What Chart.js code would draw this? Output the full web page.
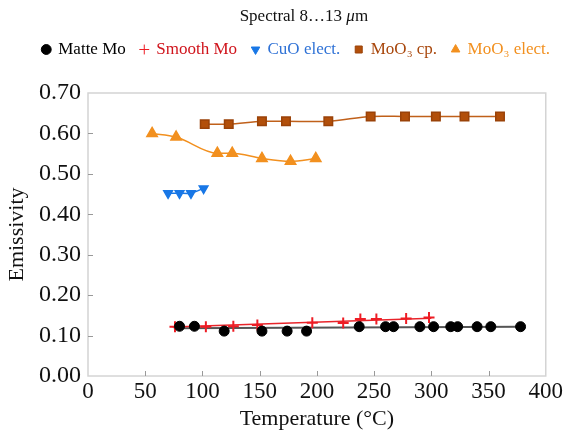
<!DOCTYPE html>
<html>
<head>
<meta charset="utf-8">
<script src="https://cdn.jsdelivr.net/npm/chart.js@4.4.1/dist/chart.umd.min.js"></script>
<style>
  html, body { margin: 0; padding: 0; background: #fff; }
  #wrap { width: 565px; height: 436px; }
</style>
</head>
<body>
<div id="wrap"><canvas id="myChart" width="565" height="436"></canvas></div>
<script>
// values
const matteX = [80, 93, 119, 152, 174, 191, 237, 260, 267, 290, 302, 317, 323, 340, 352, 378];
const matteY = [0.123, 0.123, 0.111, 0.111, 0.111, 0.111, 0.122, 0.122, 0.122, 0.122, 0.122, 0.122, 0.122, 0.122, 0.122, 0.122];
const matteTrendX = [75, 378];
const matteTrendY = [0.118, 0.122];

const smoothX = [76, 103, 127, 148, 196, 223, 238, 252, 278, 298];
const smoothY = [0.122, 0.122, 0.123, 0.126, 0.132, 0.131, 0.141, 0.141, 0.142, 0.145];
const smoothTrendX = [74, 300];
const smoothTrendY = [0.121, 0.143];

const cuoX = [70, 80, 90, 101];
const cuoY = [0.452, 0.452, 0.452, 0.464];

const moCpX = [102, 123, 152, 173, 210, 247, 277, 304, 329, 360];
const moCpY = [0.623, 0.623, 0.630, 0.630, 0.630, 0.642, 0.642, 0.642, 0.642, 0.642];

const moElX = [56, 77, 113, 126, 152, 177, 199];
const moElY = [0.600, 0.591, 0.551, 0.551, 0.538, 0.531, 0.538];

const xTicks = [0, 50, 100, 150, 200, 250, 300, 350, 400];
const yTicks = [0, 0.1, 0.2, 0.3, 0.4, 0.5, 0.6, 0.7];

const serif = "'Liberation Serif', 'DejaVu Serif', serif";

function toPoints(xs, ys) {
  return xs.map((x, i) => ({ x: x, y: ys[i] }));
}

// title over the plot, with italic mu
const titlePlugin = {
  id: 'spectralTitle',
  afterDraw(chart) {
    const ctx = chart.ctx;
    const area = chart.chartArea;
    const parts = [
      { t: 'Spectral 8\u202613 ', f: '17px ' + serif },
      { t: '\u03bc', f: 'italic 17px ' + serif },
      { t: 'm', f: '17px ' + serif }
    ];
    ctx.save();
    let total = 0;
    parts.forEach(p => { ctx.font = p.f; p.w = ctx.measureText(p.t).width; total += p.w; });
    let x = (area.left + area.right) / 2 - 13 - total / 2;
    ctx.fillStyle = '#111';
    ctx.textBaseline = 'middle';
    parts.forEach(p => { ctx.font = p.f; ctx.fillText(p.t, x, 17); x += p.w; });
    ctx.restore();
  }
};

// light frame around the plot and short inward ticks
const framePlugin = {
  id: 'frame',
  afterDatasetsDraw(chart) {
    const ctx = chart.ctx;
    const a = chart.chartArea;
    ctx.save();
    ctx.strokeStyle = '#d4d4d4';
    ctx.lineWidth = 1.5;
    ctx.strokeRect(a.left, a.top, a.right - a.left, a.bottom - a.top);
    ctx.strokeStyle = '#999';
    ctx.lineWidth = 1;
    const xs = chart.scales.x, ys = chart.scales.y;
    xTicks.slice(1, -1).forEach(v => {
      const px = Math.round(xs.getPixelForValue(v)) + 0.5;
      ctx.beginPath(); ctx.moveTo(px, a.bottom); ctx.lineTo(px, a.bottom - 5); ctx.stroke();
    });
    yTicks.slice(1, -1).forEach(v => {
      const py = Math.round(ys.getPixelForValue(v)) + 0.5;
      ctx.beginPath(); ctx.moveTo(a.left, py); ctx.lineTo(a.left + 5, py); ctx.stroke();
    });
    ctx.restore();
  }
};

const legendColors = ['#000000', '#d0141c', '#2f72d6', '#a8470c', '#f2901f'];

const ctx = document.getElementById('myChart').getContext('2d');
new Chart(ctx, {
  type: 'scatter',
  data: {
    datasets: [
      {
        label: 'Matte Mo',
        data: toPoints(matteX, matteY),
        pointStyle: 'circle',
        pointRadius: 5,
        backgroundColor: '#000',
        borderColor: '#000',
        showLine: false
      },
      {
        label: 'Smooth Mo',
        data: toPoints(smoothX, smoothY),
        pointStyle: 'cross',
        pointRadius: 5.5,
        pointBorderWidth: 2,
        backgroundColor: '#ee1c24',
        borderColor: '#ee1c24',
        showLine: false
      },
      {
        label: 'CuO elect.',
        data: toPoints(cuoX, cuoY),
        pointStyle: 'triangle',
        rotation: 180,
        pointRadius: 5,
        backgroundColor: '#1877e6',
        borderColor: '#1877e6',
        borderWidth: 1.5,
        showLine: true,
        tension: 0.2
      },
      {
        label: 'MoO\u2083 cp.',
        data: toPoints(moCpX, moCpY),
        pointStyle: 'rect',
        pointRadius: 6,
        backgroundColor: '#b24f0a',
        borderColor: '#c0601a',
        pointBorderColor: '#9a4208',
        borderWidth: 1.5,
        showLine: true,
        tension: 0.3
      },
      {
        label: 'MoO\u2083 elect.',
        data: toPoints(moElX, moElY),
        pointStyle: 'triangle',
        pointRadius: 6,
        backgroundColor: '#f2901f',
        borderColor: '#f2901f',
        borderWidth: 1.5,
        showLine: true,
        cubicInterpolationMode: 'monotone'
      },
      {
        label: 'trend smooth',
        data: toPoints(smoothTrendX, smoothTrendY),
        pointRadius: 0,
        borderColor: '#e8242a',
        borderWidth: 1.5,
        showLine: true
      },
      {
        label: 'trend matte',
        data: toPoints(matteTrendX, matteTrendY),
        pointRadius: 0,
        borderColor: '#555',
        borderWidth: 2,
        showLine: true
      }
    ]
  },
  options: {
    responsive: false,
    animation: false,
    layout: { padding: { top: 26, right: 0, left: 0, bottom: 0 } },
    plugins: {
      tooltip: { enabled: false },
      legend: {
        position: 'top',
        align: 'end',
        labels: {
          usePointStyle: true,
          boxWidth: 7,
          boxHeight: 7,
          padding: 15,
          font: { family: serif, size: 17 },
          filter: item => item.datasetIndex < 5,
          generateLabels(chart) {
            const items = Chart.defaults.plugins.legend.labels.generateLabels(chart);
            items.forEach(it => {
              it.fontColor = legendColors[it.datasetIndex] || '#000';
              it.lineWidth = 1;
            });
            return items;
          }
        }
      }
    },
    scales: {
      x: {
        type: 'linear',
        min: 0,
        max: 400,
        afterFit: s => { s.height = 60; },
        afterBuildTicks: s => { s.ticks = xTicks.map(v => ({ value: v })); },
        grid: { display: false, drawTicks: false },
        border: { display: false },
        ticks: {
          color: '#111',
          padding: 2,
          maxRotation: 0,
          font: { family: serif, size: 23 }
        },
        title: {
          display: true,
          text: 'Temperature (\u00b0C)',
          color: '#111',
          padding: { top: 0 },
          font: { family: serif, size: 22 }
        }
      },
      xTop: {
        type: 'linear',
        position: 'top',
        min: 0,
        max: 400,
        afterFit: s => { s.height = 25; },
        grid: { display: false, drawTicks: false },
        border: { display: false },
        ticks: { display: false }
      },
      yRight: {
        type: 'linear',
        position: 'right',
        min: 0,
        max: 0.7,
        afterFit: s => { s.width = 17; },
        grid: { display: false, drawTicks: false },
        border: { display: false },
        ticks: { display: false }
      },
      y: {
        min: 0,
        max: 0.7,
        afterFit: s => { s.width = 88; },
        afterBuildTicks: s => { s.ticks = yTicks.map(v => ({ value: v })); },
        grid: { display: false, drawTicks: false },
        border: { display: false },
        ticks: {
          color: '#111',
          padding: 7,
          font: { family: serif, size: 24 },
          callback: v => v.toFixed(2)
        },
        title: {
          display: true,
          text: 'Emissivity',
          color: '#111',
          padding: { bottom: 0 },
          font: { family: serif, size: 22 }
        }
      }
    }
  },
  plugins: [titlePlugin, framePlugin]
});
</script>
</body>
</html>
